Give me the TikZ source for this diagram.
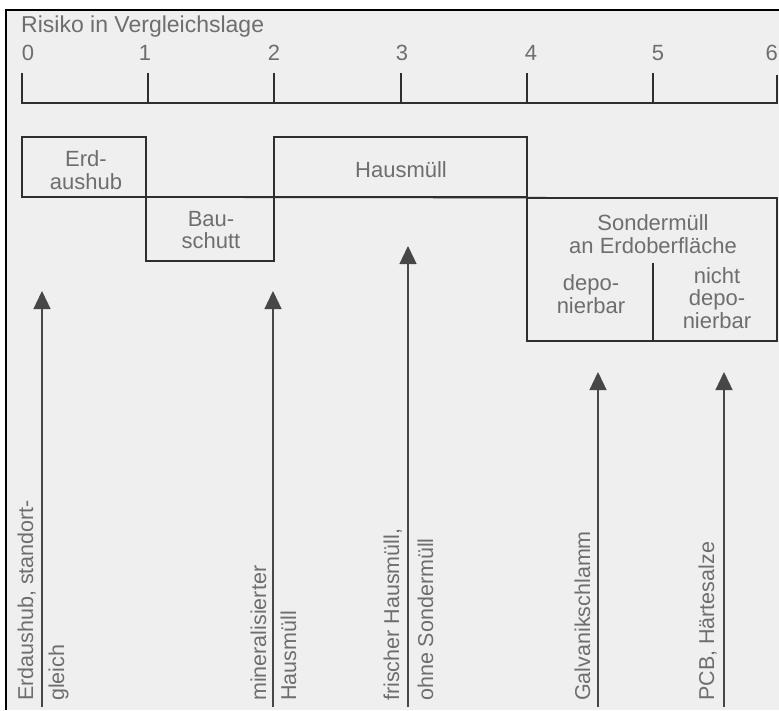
\documentclass[tikz,border=0pt]{standalone}
\usepackage{fontspec}
\setmainfont{Liberation Sans}
\usetikzlibrary{arrows.meta}
\definecolor{bg}{HTML}{EFEFEF}
\definecolor{txt}{HTML}{6E6E6E}
\definecolor{ln}{HTML}{2E2E2E}
\definecolor{aln}{HTML}{474747}
\begin{document}
\begin{tikzpicture}[x=1pt,y=-1pt,
  lbl/.style={text=txt, font=\fontsize{22}{22.5}\selectfont, inner sep=0pt, align=center},
  rlbl/.style={text=txt, font=\fontsize{21.5}{22}\selectfont, inner sep=0pt, rotate=90, anchor=base west},
  boxline/.style={draw=ln, line width=1.4pt},
  arr/.style={draw=aln, line width=1.3pt, -{Triangle[width=17pt,length=18pt]}}]
\useasboundingbox (0,0) rectangle (779,710);
\fill[white] (0,0) rectangle (779,710);
\fill[bg] (6,10) rectangle (779,710);
\draw[line width=2pt] (6,710) -- (6,10) -- (779,10);

% title and scale
\node[lbl, anchor=base west, font=\fontsize{23}{24}\selectfont] (title) at (21,32) {Risiko in Vergleichslage};
\node[lbl, anchor=base] (n0) at (28,60) {0};
\node[lbl, anchor=base] (n1) at (145,60) {1};
\node[lbl, anchor=base] (n2) at (274,60) {2};
\node[lbl, anchor=base] (n3) at (402,60) {3};
\node[lbl, anchor=base] (n4) at (531,60) {4};
\node[lbl, anchor=base] (n5) at (658,60) {5};
\node[lbl, anchor=base east] (n6) at (778,60) {6};

\draw[boxline] (22,73) -- (22,103) -- (777,103) -- (777,75);
\foreach \tx in {148,274,401,527,653} \draw[boxline] (\tx,73) -- (\tx,103);

% boxes
\draw[boxline] (22,137) rectangle (146,197);
\draw[boxline] (274,137) rectangle (527,197);
\draw[boxline] (146,197) rectangle (274,261);
\draw[boxline] (527,198) rectangle (777,341);
\draw[boxline] (22,197) -- (777,198);
\draw[boxline] (653,263) -- (653,341);

\node[lbl] (erd) at (86,170) {Erd-\\aushub};
\node[lbl] (bau) at (211,230) {Bau-\\schutt};
\node[lbl, anchor=base] (haus) at (401,177) {Hausmüll};
\node[lbl] (sonder) at (653,234) {Sondermüll\\an Erdoberfläche};
\node[lbl] (dep) at (591,294) {depo-\\nierbar};
\node[lbl] (ndep) at (717,298) {nicht\\depo-\\nierbar};

% arrows
\coordinate (b1) at (42,707);  \coordinate (t1) at (42,291);
\coordinate (b2) at (273,707); \coordinate (t2) at (273,291);
\coordinate (b3) at (408,707); \coordinate (t3) at (408,246);
\coordinate (b4) at (598,707); \coordinate (t4) at (598,372);
\coordinate (b5) at (724,707); \coordinate (t5) at (724,372);
\draw[arr] (b1) -- (t1);
\draw[arr] (b2) -- (t2);
\draw[arr] (b3) -- (t3);
\draw[arr] (b4) -- (t4);
\draw[arr] (b5) -- (t5);

\node[rlbl] (l1a) at (33,701) {Erdaushub, standort-};
\node[rlbl] (l1b) at (64,701) {gleich};
\node[rlbl] (l2a) at (266,701) {mineralisierter};
\node[rlbl] (l2b) at (296,701) {Hausmüll};
\node[rlbl] (l3a) at (399,701) {frischer Hausmüll,};
\node[rlbl] (l3b) at (433,701) {ohne Sondermüll};
\node[rlbl] (l4a) at (590,701) {Galvanikschlamm};
\node[rlbl] (l5a) at (714,701) {PCB, Härtesalze};
\end{tikzpicture}
\end{document}
